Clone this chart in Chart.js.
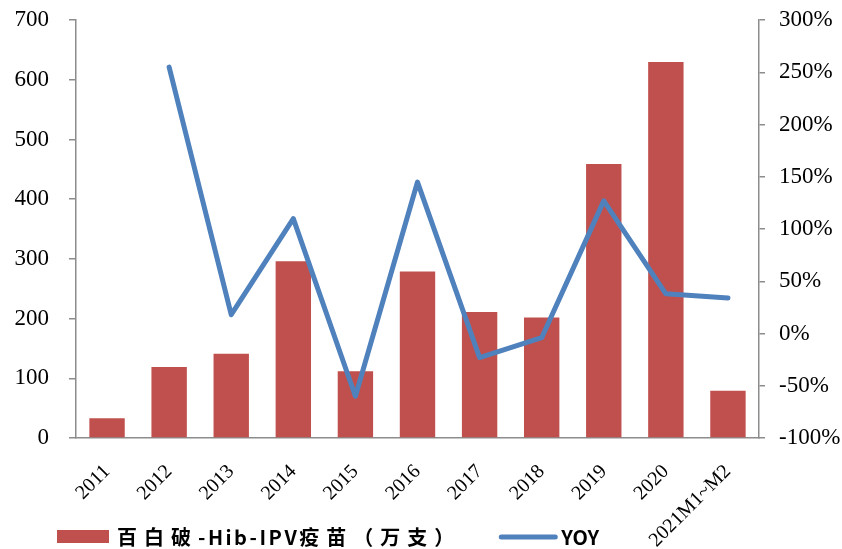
<!DOCTYPE html>
<html>
<head>
<meta charset="utf-8">
<script src="https://cdn.jsdelivr.net/npm/chart.js@4/dist/chart.umd.min.js"></script>
<style>
	html, body { margin: 0; padding: 0; background: #fff; }
	#wrap { width: 842px; height: 549px; }
</style>
</head>
<body>
<div id="wrap"><canvas id="chart"></canvas></div>
<script>
const categories = ['2011', '2012', '2013', '2014', '2015', '2016', '2017', '2018', '2019', '2020', '2021M1~M2'];
const doses = [33, 119, 141, 296, 112, 279, 211, 202, 459, 630, 79];
const yoy = [null, 255, 18, 110, -60, 145, -23, -4, 127, 38, 34];
const doseLabel = '百白破-Hib-IPV疫苗（万支）';
const yoyLabel = 'YOY';

const axisGrey = '#8c8c8c';
const serif = "'Liberation Serif', 'Times New Roman', serif";

// draws text in runs: wide spacing for CJK, tight for latin
function spacedText(ctx, text, x, y) {
	const runs = text.match(/[\x00-\xff]+|[^\x00-\xff]+/g);
	runs.forEach((run) => {
		ctx.letterSpacing = /[\x00-\xff]/.test(run) ? '2.5px' : '7px';
		ctx.fillText(run, x, y);
		x += ctx.measureText(run).width;
	});
	return x;
}

// legend sits in the bottom strip, next to the long rotated label
const bottomLegend = {
	id: 'bottomLegend',
	afterDraw(chart) {
		const { ctx } = chart;
		const [line, bar] = chart.data.datasets;
		const y = 537;

		ctx.save();
		ctx.font = "bold 20px 'Noto Sans CJK SC', sans-serif";
		ctx.textBaseline = 'middle';

		ctx.fillStyle = bar.backgroundColor;
		ctx.fillRect(57, y - 7, 52, 13);
		ctx.fillStyle = '#000';
		const textEnd = spacedText(ctx, bar.label, 117, y);

		const lineStart = textEnd + 40;
		ctx.strokeStyle = line.borderColor;
		ctx.lineWidth = line.borderWidth;
		ctx.lineCap = 'round';
		ctx.beginPath();
		ctx.moveTo(lineStart, y);
		ctx.lineTo(lineStart + 54, y);
		ctx.stroke();
		ctx.letterSpacing = '0px';
		ctx.fillText(line.label, lineStart + 60, y);
		ctx.restore();
	},
};

const ctx = document.getElementById('chart').getContext('2d');
new Chart(ctx, {
	type: 'bar',
	data: {
		labels: categories,
		datasets: [
			{
				type: 'line',
				label: yoyLabel,
				data: yoy,
				yAxisID: 'y1',
				borderColor: '#4f81bd',
				backgroundColor: '#4f81bd',
				borderWidth: 5,
				pointRadius: 0,
				tension: 0,
				borderJoinStyle: 'round',
				borderCapStyle: 'round',
			},
			{
				label: doseLabel,
				data: doses,
				yAxisID: 'y',
				backgroundColor: '#c0504d',
				borderWidth: 0,
				categoryPercentage: 1,
				barPercentage: 0.57,
			},
		],
	},
	options: {
		responsive: true,
		maintainAspectRatio: false,
		animation: false,
		layout: { padding: 0 },
		plugins: {
			tooltip: { enabled: false },
			legend: { display: false },
		},
		scales: {
			x: {
				offset: true,
				grid: { display: false },
				border: { color: axisGrey, width: 1.5 },
				ticks: {
					color: '#000',
					font: { family: serif, size: 20 },
					minRotation: 45,
					maxRotation: 45,
					autoSkip: false,
					padding: 14,
				},
				afterFit: (scale) => {
					scale.height = 111;
				},
			},
			y: {
				position: 'left',
				min: 0,
				max: 700,
				grid: { drawOnChartArea: false, tickLength: 7, color: axisGrey, lineWidth: 1.5 },
				border: { color: axisGrey, width: 1.5 },
				ticks: {
					stepSize: 100,
					color: '#000',
					font: { family: serif, size: 23, lineHeight: 0.01 },
					padding: 20,
				},
				afterFit: (scale) => {
					scale.width = 76;
				},
			},
			y1: {
				position: 'right',
				min: -100,
				max: 300,
				grid: { drawOnChartArea: false, tickLength: 6, color: axisGrey, lineWidth: 1.5 },
				border: { color: axisGrey, width: 1.5 },
				ticks: {
					stepSize: 50,
					color: '#000',
					font: { family: serif, size: 23, lineHeight: 0.01 },
					padding: 14,
					callback: (v) => v + '%',
				},
				afterFit: (scale) => {
					scale.width = 83;
				},
			},
		},
	},
	plugins: [bottomLegend],
});
</script>
</body>
</html>
